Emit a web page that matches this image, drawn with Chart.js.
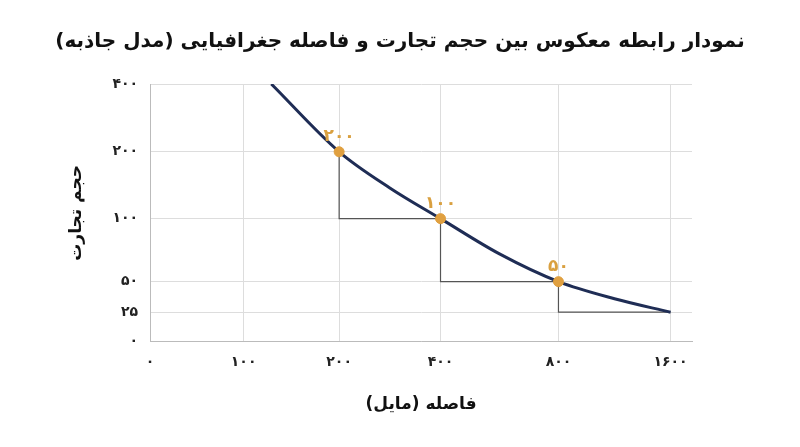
<!DOCTYPE html>
<html><head><meta charset="utf-8">
<script src="https://cdn.jsdelivr.net/npm/chart.js@4/dist/chart.umd.min.js"></script>
<style>html,body{margin:0;background:#fff}#w{width:800px;height:447px}</style>
</head><body><div id="w"><canvas id="c"></canvas></div>
<script>
const xTickValues=[0,100,200,400,800,1600];
const xTickLabels=['۰','۱۰۰','۲۰۰','۴۰۰','۸۰۰','۱۶۰۰'];
const yTickValues=[0,25,50,100,200,400];
const yTickLabels=['۰','۲۵','۵۰','۱۰۰','۲۰۰','۴۰۰'];
const curveX=[129,200,300,400,600,800,1200,1600];
const curveY=[400,200,146,100,72,50,36,25];
const pointX=[200,400,800];
const pointY=[200,100,50];
const pointLabels=['۲۰۰','۱۰۰','۵۰'];
const titleText='نمودار رابطه معکوس بین حجم تجارت و فاصله جغرافیایی (مدل جاذبه)';
// axis position of each tick (uneven spacing as in the original)
const xTickPos=[0,96,194,298,419,534];
const yTickPos=[0,31,63,129,199,270];
function toPos(v,vals,pos){for(let i=1;i<vals.length;i++){if(v<=vals[i]){return pos[i-1]+(v-vals[i-1])/(vals[i]-vals[i-1])*(pos[i]-pos[i-1]);}}return pos[pos.length-1];}
const px=v=>toPos(v,xTickValues,xTickPos), py=v=>toPos(v,yTickValues,yTickPos);
const curve=curveX.map((x,i)=>({x:px(x),y:py(curveY[i])}));
const pts=pointX.map((x,i)=>({x:px(x),y:py(pointY[i])}));
const steps=[];
for(let i=0;i<pointX.length;i++){
  const nx=i<pointX.length-1?pointX[i+1]:1600, ny=i<pointY.length-1?pointY[i+1]:25;
  steps.push({x:px(pointX[i]),y:py(pointY[i])},{x:px(pointX[i]),y:py(ny)},{x:px(nx),y:py(ny)},{x:NaN,y:NaN});
}
const F='"DejaVu Sans", sans-serif';
const labelsPlugin={id:'lbl',afterDatasetsDraw(ch){const c=ch.ctx;const m=ch.getDatasetMeta(2);c.save();c.fillStyle='#d9a040';c.font='bold 17px '+F;c.textAlign='center';c.textBaseline='bottom';
 m.data.forEach((p,i)=>c.fillText(pointLabels[i],p.x,p.y-7));
 c.fillStyle='#111';c.font='bold 20px '+F;c.textBaseline='middle';c.fillText(titleText,400,42);c.restore();}};
new Chart(document.getElementById('c'),{type:'scatter',
data:{datasets:[
 {data:steps,showLine:true,borderColor:'#555',borderWidth:1.2,pointRadius:0,spanGaps:false,order:3},
 {data:curve,showLine:true,borderColor:'#1f2d55',borderWidth:3,pointRadius:0,cubicInterpolationMode:'monotone',order:2},
 {data:pts,backgroundColor:'#e0a040',borderColor:'#e0a040',pointRadius:5,order:1}
]},
plugins:[labelsPlugin],
options:{responsive:true,maintainAspectRatio:false,animation:false,
 layout:{padding:{left:62,right:108,top:84,bottom:28}},
 plugins:{legend:{display:false},tooltip:{enabled:false},title:{display:false}},
 scales:{
  x:{type:'linear',min:0,max:556,afterBuildTicks:a=>{a.ticks=xTickPos.map(v=>({value:v}));},
   ticks:{callback:(v)=>xTickLabels[xTickPos.indexOf(v)],font:{family:F,size:14,weight:'bold'},color:'#222',padding:12},
   grid:{color:'#ddd',drawTicks:false},border:{color:'#bbb'},
   title:{display:true,text:'فاصله (مایل)',font:{family:F,size:17,weight:'bold'},color:'#111',padding:{top:12}}},
  y:{type:'linear',min:0,max:270,afterBuildTicks:a=>{a.ticks=yTickPos.map(v=>({value:v}));},
   ticks:{callback:(v)=>yTickLabels[yTickPos.indexOf(v)],font:{family:F,size:14,weight:'bold'},color:'#222',padding:12},
   grid:{color:'#ddd',drawTicks:false},border:{color:'#bbb'},
   title:{display:true,text:'حجم تجارت',font:{family:F,size:17,weight:'bold'},color:'#111',padding:{bottom:14}}}
 }}});
</script></body></html>
